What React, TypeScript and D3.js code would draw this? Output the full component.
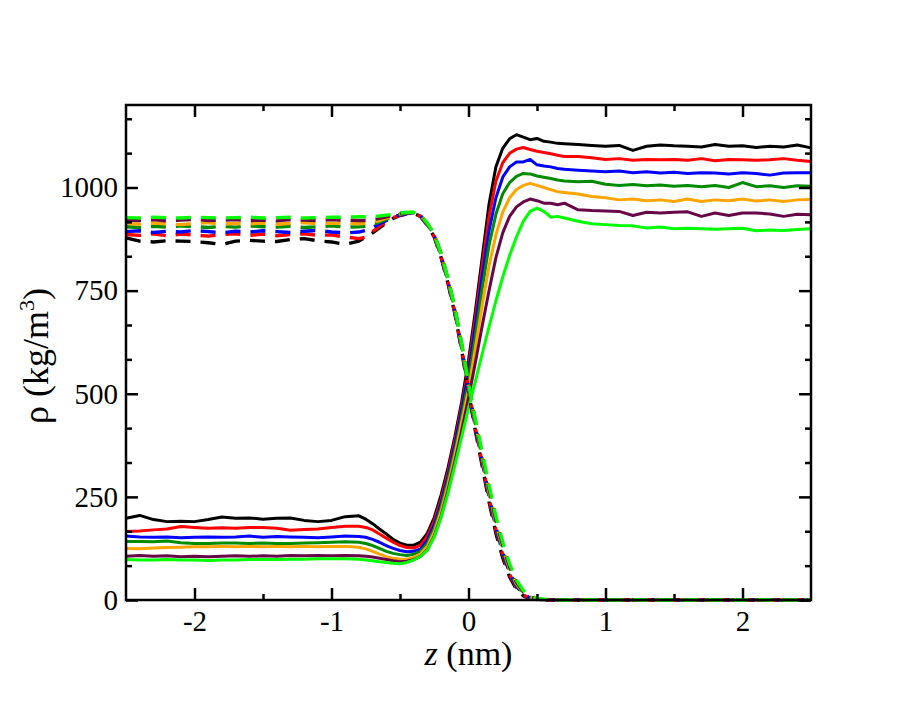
import React, {useEffect, useRef} from 'react';
import * as d3 from 'd3';

// z positions (nm) shared by every profile: coarse in the bulk, fine across the interface
const zGrid = [
  -2.5, -2.4, -2.3, -2.2, -2.1, -2.0, -1.9, -1.8, -1.7, -1.6, -1.5, -1.4, -1.3, -1.2, -1.1, -1.0, -0.9, -0.8,
  -0.75, -0.7, -0.65, -0.6, -0.55, -0.5, -0.45, -0.4, -0.35, -0.3, -0.25, -0.2, -0.15, -0.1, -0.05, 0,
  0.05, 0.1, 0.15, 0.2, 0.25, 0.3, 0.35, 0.4, 0.45, 0.5, 0.55, 0.6, 0.65, 0.7,
  0.8, 0.9, 1.0, 1.1, 1.2, 1.3, 1.4, 1.5, 1.6, 1.7, 1.8, 1.9, 2.0, 2.1, 2.2, 2.3, 2.4, 2.5,
];

const seriesColors = ['#000000', '#ff0000', '#0000ff', '#008b00', '#ffa500', '#670748', '#00ff00'];

// solid profiles (rising to the right)
const solidBlack = [
  198, 205, 195, 190, 191, 190, 195, 201, 198, 199, 196, 198, 199, 193, 190, 193, 202, 204,
  196, 185, 172, 160, 147, 138, 133, 133, 140, 162, 200, 255, 320, 395, 480, 580,
  700, 830, 960, 1050, 1095, 1118, 1128, 1122, 1116, 1119, 1112, 1110, 1107, 1106,
  1104, 1102, 1100, 1102, 1090, 1100, 1103, 1101, 1100, 1098, 1104, 1100, 1101, 1097, 1100, 1098, 1103, 1096,
];
const solidRed = [
  166, 167, 170, 172, 178, 176, 174, 175, 174, 176, 176, 174, 169, 171, 172, 176, 179, 179,
  176, 170, 160, 150, 140, 132, 127, 126, 133, 155, 192, 245, 310, 385, 470, 565,
  685, 810, 930, 1015, 1060, 1083, 1093, 1097, 1092, 1088, 1085, 1082, 1078, 1075,
  1075, 1072, 1068, 1070, 1066, 1068, 1067, 1068, 1066, 1070, 1065, 1068, 1067, 1066, 1067, 1070, 1066, 1063,
];
const solidBlue = [
  155, 153, 152, 153, 151, 152, 153, 152, 153, 155, 152, 154, 153, 152, 151, 153, 155, 154,
  152, 147, 140, 132, 125, 120, 117, 118, 124, 145, 182, 235, 300, 375, 460, 550,
  665, 785, 895, 975, 1025, 1050, 1062, 1062, 1068, 1055, 1052, 1050, 1046, 1044,
  1042, 1040, 1038, 1040, 1036, 1038, 1035, 1037, 1034, 1036, 1035, 1033, 1036, 1034, 1030, 1035, 1036, 1036,
];
const solidGreen = [
  142, 142, 141, 143, 139, 137, 137, 138, 138, 137, 138, 137, 137, 138, 139, 140, 141, 140,
  137, 132, 125, 118, 113, 110, 108, 111, 118, 137, 173, 225, 290, 362, 445, 530,
  640, 755, 860, 935, 985, 1012, 1027, 1034, 1033, 1028, 1025, 1022, 1018, 1016,
  1014, 1015, 1008, 1005, 1007, 1004, 1006, 1003, 1005, 1002, 1005, 1000, 1012, 1002, 1004, 1000, 1004, 1003,
];
const solidOrange = [
  125, 124, 126, 127, 128, 129, 129, 130, 129, 130, 129, 130, 129, 130, 129, 130, 130, 128,
  124, 118, 111, 105, 101, 99, 99, 103, 112, 130, 165, 215, 278, 350, 430, 510,
  610, 715, 810, 885, 940, 975, 995, 1005, 1010, 1005, 1000, 995, 990, 988,
  984, 978, 975, 970, 972, 968, 970, 966, 972, 966, 970, 968, 972, 967, 970, 966, 970, 971,
];
const solidMaroon = [
  106, 108, 106, 107, 105, 106, 105, 106, 107, 106, 107, 106, 108, 107, 108, 107, 108, 107,
  106, 104, 101, 98, 95, 93, 94, 98, 106, 122, 155, 203, 265, 335, 410, 490,
  575, 665, 750, 830, 890, 930, 953, 965, 972, 968, 962, 962, 958, 962,
  946, 944, 943, 942, 932, 940, 938, 940, 941, 930, 938, 932, 938, 938, 936, 930, 935, 934,
];
const solidLime = [
  98, 97, 97, 98, 97, 97, 96, 97, 97, 98, 98, 98, 99, 99, 100, 100, 100, 99,
  97, 95, 93, 91, 89, 88, 91, 97, 106, 121, 153, 200, 258, 325, 395, 465,
  530, 597, 662, 725, 783, 835, 880, 918, 942, 950, 942, 928, 930, 926,
  918, 912, 910, 908, 907, 902, 904, 900, 901, 900, 899, 900, 901, 895, 897, 896, 898, 900,
];

// dashed profiles (falling to the right)
const dashedBlack = [
  878, 870, 868, 871, 870, 869, 866, 862, 870, 872, 870, 869, 874, 876, 871, 868, 862, 870,
  880, 890, 902, 914, 925, 932, 936, 937, 930, 908, 880, 830, 768, 695, 605, 505,
  410, 325, 238, 162, 102, 56, 26, 10, 3, 1, 0, 0, 0, 0,
  0, 0, 1, 0, 0, 0, 0, 1, 0, 0, 0, 0, 0, 0, 1, 0, 0, 0,
];
const dashedRed = [
  886, 884, 888, 883, 887, 885, 882, 886, 888, 884, 887, 883, 886, 888, 884, 885, 880, 876,
  880, 893, 906, 917, 927, 933, 937, 937, 930, 909, 881, 832, 770, 698, 608, 510,
  416, 332, 246, 170, 110, 62, 30, 12, 4, 1, 0, 0, 0, 0,
  0, 0, 0, 1, 0, 0, 0, 0, 0, 1, 0, 0, 0, 0, 0, 0, 1, 0,
];
const dashedBlue = [
  893, 895, 891, 894, 892, 896, 893, 890, 894, 892, 895, 893, 891, 894, 896, 892, 890, 892,
  896, 903, 912, 920, 928, 934, 937, 938, 931, 910, 883, 834, 772, 700, 611, 513,
  420, 337, 252, 176, 115, 66, 33, 14, 5, 2, 0, 0, 0, 0,
  0, 1, 0, 0, 0, 0, 1, 0, 0, 0, 0, 0, 1, 0, 0, 0, 0, 0,
];
const dashedGreen = [
  905, 903, 906, 904, 907, 905, 903, 906, 904, 907, 905, 904, 906, 903, 905, 907, 904, 905,
  906, 910, 916, 923, 929, 935, 938, 939, 932, 911, 885, 836, 775, 703, 615, 517,
  426, 343, 258, 182, 121, 71, 37, 16, 6, 2, 1, 0, 0, 0,
  0, 0, 0, 0, 1, 0, 0, 0, 0, 0, 0, 1, 0, 0, 0, 0, 0, 1,
];
const dashedOrange = [
  913, 911, 914, 912, 910, 913, 915, 911, 913, 912, 914, 911, 913, 915, 912, 913, 914, 912,
  913, 916, 920, 926, 931, 936, 939, 939, 932, 912, 886, 838, 777, 706, 618, 520,
  430, 348, 264, 188, 127, 76, 40, 18, 7, 3, 1, 0, 0, 0,
  0, 0, 1, 0, 0, 0, 0, 0, 1, 0, 0, 0, 0, 0, 0, 1, 0, 0,
];
const dashedMaroon = [
  921, 920, 922, 919, 921, 923, 920, 921, 922, 920, 921, 919, 922, 921, 920, 922, 921, 920,
  920, 922, 925, 929, 933, 937, 939, 939, 932, 912, 886, 839, 778, 708, 620, 522,
  433, 352, 270, 193, 132, 80, 43, 20, 8, 3, 1, 0, 0, 0,
  0, 0, 0, 0, 0, 1, 0, 0, 0, 0, 1, 0, 0, 0, 0, 0, 0, 0,
];
const dashedLime = [
  927, 926, 928, 927, 926, 928, 927, 926, 927, 928, 926, 927, 928, 926, 927, 928, 928, 929,
  929, 930, 931, 933, 935, 938, 940, 940, 933, 913, 887, 840, 780, 710, 622, 525,
  438, 358, 278, 203, 140, 87, 48, 23, 10, 4, 2, 1, 0, 0,
  1, 0, 0, 0, 1, 0, 0, 0, 0, 1, 0, 0, 0, 1, 0, 0, 0, 0,
];

const solidSeries = [solidBlack, solidRed, solidBlue, solidGreen, solidOrange, solidMaroon, solidLime];
const dashedSeries = [dashedBlack, dashedRed, dashedBlue, dashedGreen, dashedOrange, dashedMaroon, dashedLime];

const xMajorTicks = [-2, -1, 0, 1, 2];
const xMinorTicks = [-1.5, -0.5, 0.5, 1.5];
const yMajorTicks = [0, 250, 500, 750, 1000];
const yMinorTicks = [83.33, 166.67, 333.33, 416.67, 583.33, 666.67, 833.33, 916.67, 1083.33, 1166.67];

const FONT = '"Liberation Serif", "Times New Roman", serif';

const DensityChart: React.FC<{width?: number; height?: number}> = ({width = 913, height = 706}) => {
  const svgRef = useRef<SVGSVGElement | null>(null);

  useEffect(() => {
    if (!svgRef.current) return;
    const margin = {top: 105, right: 102, bottom: 106, left: 126};
    const innerWidth = width - margin.left - margin.right;
    const innerHeight = height - margin.top - margin.bottom;

    const svg = d3.select(svgRef.current);
    svg.selectAll('*').remove();

    const x = d3.scaleLinear().domain([-2.5, 2.5]).range([0, innerWidth]);
    const y = d3.scaleLinear().domain([0, 1200]).range([innerHeight, 0]);

    const g = svg.append('g').attr('transform', `translate(${margin.left},${margin.top})`);

    const line = d3
      .line<number>()
      .x((_d, i) => x(zGrid[i]))
      .y((d) => y(d));

    solidSeries.forEach((vals, i) => {
      g.append('path')
        .attr('d', line(vals))
        .attr('fill', 'none')
        .attr('stroke', seriesColors[i])
        .attr('stroke-width', 3)
        .attr('stroke-linejoin', 'round');
    });

    dashedSeries.forEach((vals, i) => {
      g.append('path')
        .attr('d', line(vals))
        .attr('fill', 'none')
        .attr('stroke', seriesColors[i])
        .attr('stroke-width', 3.4)
        .attr('stroke-dasharray', '15,10')
        .attr('stroke-linejoin', 'round');
    });

    const styleAxis = (sel: d3.Selection<SVGGElement, unknown, null, undefined>) => {
      sel.select('.domain').remove();
      sel.selectAll('.tick line').attr('stroke', '#000').attr('stroke-width', 2.5);
      sel.selectAll('.tick text').attr('fill', '#000').style('font-family', FONT).style('font-size', '29px');
    };
    const noLabel = () => '';

    // bottom
    g.append('g')
      .attr('transform', `translate(0,${innerHeight})`)
      .call(d3.axisBottom(x).tickValues(xMajorTicks).tickSize(-12).tickPadding(10).tickFormat((d) => String(d)))
      .call(styleAxis);
    g.append('g')
      .attr('transform', `translate(0,${innerHeight})`)
      .call(d3.axisBottom(x).tickValues(xMinorTicks).tickSize(-6).tickFormat(noLabel))
      .call(styleAxis);
    // top
    g.append('g')
      .call(d3.axisTop(x).tickValues(xMajorTicks).tickSize(-12).tickFormat(noLabel))
      .call(styleAxis);
    g.append('g')
      .call(d3.axisTop(x).tickValues(xMinorTicks).tickSize(-6).tickFormat(noLabel))
      .call(styleAxis);
    // left
    g.append('g')
      .call(d3.axisLeft(y).tickValues(yMajorTicks).tickSize(-12).tickPadding(8).tickFormat((d) => String(d)))
      .call(styleAxis);
    g.append('g')
      .call(d3.axisLeft(y).tickValues(yMinorTicks).tickSize(-6).tickFormat(noLabel))
      .call(styleAxis);
    // right
    g.append('g')
      .attr('transform', `translate(${innerWidth},0)`)
      .call(d3.axisRight(y).tickValues(yMajorTicks).tickSize(-12).tickFormat(noLabel))
      .call(styleAxis);
    g.append('g')
      .attr('transform', `translate(${innerWidth},0)`)
      .call(d3.axisRight(y).tickValues(yMinorTicks).tickSize(-6).tickFormat(noLabel))
      .call(styleAxis);

    g.append('rect')
      .attr('width', innerWidth)
      .attr('height', innerHeight)
      .attr('fill', 'none')
      .attr('stroke', '#000')
      .attr('stroke-width', 2.5);

    // x label
    const xl = svg
      .append('text')
      .attr('x', margin.left + innerWidth / 2)
      .attr('y', 665)
      .attr('text-anchor', 'middle')
      .style('font-family', FONT)
      .style('font-size', '34px');
    xl.append('tspan').style('font-style', 'italic').text('z');
    xl.append('tspan').text(' (nm)');

    // y label
    const yl = svg
      .append('text')
      .attr('transform', 'rotate(-90)')
      .attr('x', -356)
      .attr('y', 48)
      .attr('text-anchor', 'middle')
      .style('font-family', FONT)
      .style('font-size', '36px');
    yl.append('tspan').text('ρ (kg/m');
    yl.append('tspan').attr('dy', -14).style('font-size', '22px').text('3');
    yl.append('tspan').attr('dy', 14).text(')');
  }, [width, height]);

  return (
    <svg
      ref={svgRef}
      width={width}
      height={height}
      style={{position: 'absolute', left: 0, top: 0, background: '#fff'}}
    />
  );
};

export default function App() {
  return <DensityChart />;
}
